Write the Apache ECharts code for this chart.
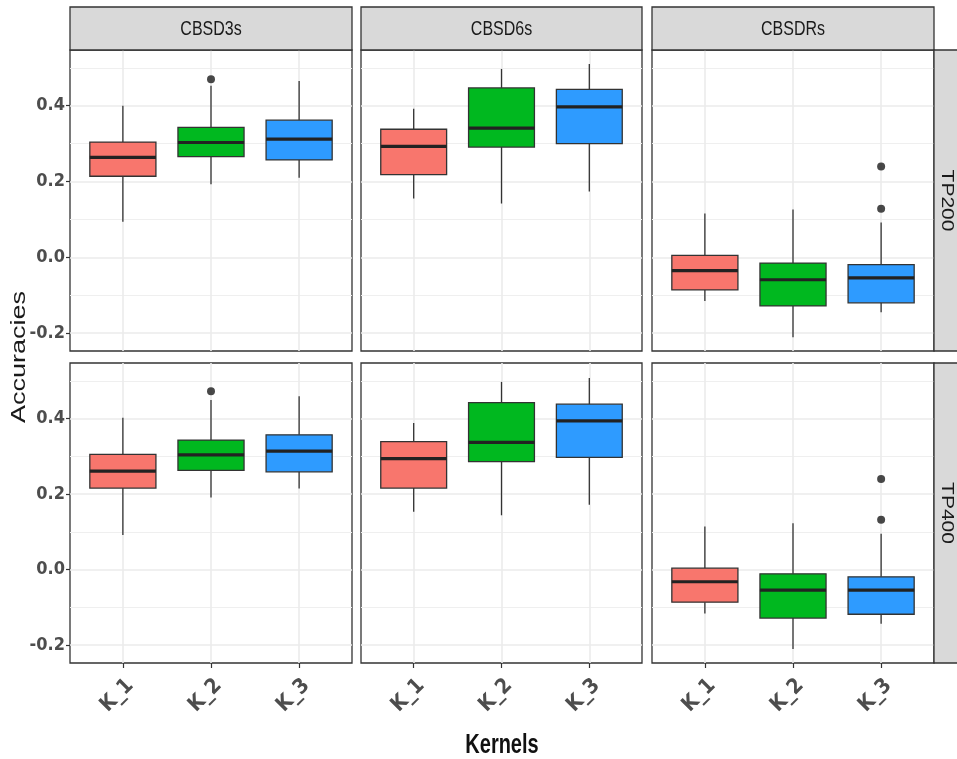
<!DOCTYPE html>
<html>
<head>
<meta charset="utf-8">
<script src="https://cdn.jsdelivr.net/npm/echarts@6/dist/echarts.min.js"></script>
<style>
html,body{margin:0;padding:0;background:#fff;}
#chart{width:957px;height:759px;}
</style>
</head>
<body>
<div id="chart"></div>
<script>
// ---- data ----
const panels = ['CBSD3s', 'CBSD6s', 'CBSDRs'];
const rowsLab = ['TP200', 'TP400'];
const kernels = ['K_1', 'K_2', 'K_3'];
const yTicks = [-0.2, 0, 0.2, 0.4];
const yMinor = [-0.1, 0.1, 0.3, 0.5];
const kernelColors = ['#F8766D', '#00B81F', '#2E9BFF'];

// [lower whisker, q1, median, q3, upper whisker] per kernel
const cbsd3s_tp200 = [[0.094, 0.214, 0.264, 0.304, 0.400], [0.193, 0.266, 0.303, 0.343, 0.453], [0.210, 0.257, 0.312, 0.362, 0.465]];
const cbsd6s_tp200 = [[0.155, 0.218, 0.293, 0.338, 0.392], [0.142, 0.291, 0.341, 0.447, 0.497], [0.174, 0.300, 0.397, 0.443, 0.510]];
const cbsdrs_tp200 = [[-0.115, -0.086, -0.035, 0.005, 0.116], [-0.211, -0.128, -0.059, -0.015, 0.126], [-0.145, -0.120, -0.054, -0.019, 0.092]];
const cbsd3s_tp400 = [[0.092, 0.216, 0.261, 0.305, 0.402], [0.191, 0.263, 0.304, 0.343, 0.449], [0.215, 0.259, 0.314, 0.357, 0.459]];
const cbsd6s_tp400 = [[0.153, 0.216, 0.294, 0.339, 0.388], [0.144, 0.286, 0.337, 0.442, 0.497], [0.172, 0.297, 0.394, 0.438, 0.507]];
const cbsdrs_tp400 = [[-0.116, -0.086, -0.032, 0.004, 0.114], [-0.210, -0.128, -0.054, -0.011, 0.123], [-0.143, -0.118, -0.054, -0.019, 0.095]];

// outliers [kernel index (1-based), value]
const out_cbsd3s_tp200 = [[2, 0.470]];
const out_cbsd6s_tp200 = [];
const out_cbsdrs_tp200 = [[3, 0.240], [3, 0.128]];
const out_cbsd3s_tp400 = [[2, 0.472]];
const out_cbsd6s_tp400 = [];
const out_cbsdrs_tp400 = [[3, 0.240], [3, 0.132]];

const boxData = [cbsd3s_tp200, cbsd6s_tp200, cbsdrs_tp200, cbsd3s_tp400, cbsd6s_tp400, cbsdrs_tp400];
const outData = [out_cbsd3s_tp200, out_cbsd6s_tp200, out_cbsdrs_tp200, out_cbsd3s_tp400, out_cbsd6s_tp400, out_cbsdrs_tp400];

// ---- layout ----
const colL = [70, 361, 652], colR = [352, 642, 934];
const rowT = [50, 363], rowB = [351, 663];
const yMin = -0.247, yMax = 0.547;
const narrow = '"Liberation Sans Narrow", "DejaVu Sans Condensed", "Liberation Sans", sans-serif';
const sans = '"Liberation Sans", Arial, sans-serif';

const grids = [], xAxes = [], yAxes = [], yAxesMinor = [], series = [];
for (let r = 0; r < 2; r++) {
  for (let c = 0; c < 3; c++) {
    const idx = r * 3 + c;
    grids.push({
      left: colL[c], top: rowT[r], width: colR[c] - colL[c], height: rowB[r] - rowT[r],
      show: true, backgroundColor: '#fff', borderColor: '#333', borderWidth: 1.3
    });
    xAxes.push({
      type: 'value', gridIndex: idx, min: 0.4, max: 3.6, position: 'bottom',
      axisLine: { show: false, onZero: false },
      axisTick: { show: r === 1, customValues: [1, 2, 3], length: 5, lineStyle: { color: '#333', width: 1.2 } },
      axisLabel: {
        show: r === 1, customValues: [1, 2, 3], rotate: 45, margin: 12, verticalAlign: 'top',
        formatter: v => kernels[Math.round(v) - 1],
        fontFamily: narrow, fontWeight: 'bold', fontSize: 21, color: '#4d4d4d'
      },
      splitLine: { show: true, lineStyle: { color: '#ebebeb', width: 1.6 } }
    });
    yAxes.push({
      type: 'value', gridIndex: idx, min: yMin, max: yMax, position: 'left',
      axisLine: { show: false, onZero: false },
      axisTick: { show: c === 0, customValues: yTicks, length: 4, lineStyle: { color: '#333', width: 1.2 } },
      axisLabel: {
        show: c === 0, customValues: yTicks, margin: 5,
        formatter: v => v.toFixed(1),
        fontFamily: narrow, fontWeight: 'bold', fontSize: 18, color: '#4d4d4d'
      },
      splitLine: { show: true, lineStyle: { color: '#ebebeb', width: 1.6 } }
    });
    yAxesMinor.push({
      type: 'value', gridIndex: idx, min: yMin, max: yMax, position: 'right',
      axisLine: { show: false, onZero: false },
      axisTick: { show: false, customValues: yMinor },
      axisLabel: { show: false, customValues: yMinor },
      splitLine: { show: true, lineStyle: { color: '#efefef', width: 1.2 } }
    });

    const data = boxData[idx].map((s, k) => [k + 1].concat(s));
    series.push({
      type: 'custom', xAxisIndex: idx, yAxisIndex: idx,
      encode: { x: 0, y: [1, 2, 3, 4, 5] },
      data: data,
      renderItem: function (params, api) {
        const x = api.value(0);
        const lo = api.coord([x, api.value(1)]);
        const q1 = api.coord([x, api.value(2)]);
        const md = api.coord([x, api.value(3)]);
        const q3 = api.coord([x, api.value(4)]);
        const hi = api.coord([x, api.value(5)]);
        const w = api.size([0.75, 0])[0];
        const col = kernelColors[Math.round(x) - 1];
        return {
          type: 'group',
          children: [
            { type: 'line', shape: { x1: hi[0], y1: hi[1], x2: q3[0], y2: q3[1] }, style: { stroke: '#333', lineWidth: 1.3 } },
            { type: 'line', shape: { x1: q1[0], y1: q1[1], x2: lo[0], y2: lo[1] }, style: { stroke: '#333', lineWidth: 1.3 } },
            { type: 'rect', shape: { x: q3[0] - w / 2, y: q3[1], width: w, height: q1[1] - q3[1] }, style: { fill: col, stroke: '#333', lineWidth: 1.3 } },
            { type: 'line', shape: { x1: md[0] - w / 2, y1: md[1], x2: md[0] + w / 2, y2: md[1] }, style: { stroke: '#222', lineWidth: 3.2 } }
          ]
        };
      }
    });
    series.push({
      type: 'scatter', xAxisIndex: idx, yAxisIndex: idx,
      data: outData[idx], symbolSize: 8,
      itemStyle: { color: '#1a1a1a' }
    });
  }
}

// strips and titles
const graphics = [];
for (let c = 0; c < 3; c++) {
  graphics.push({
    type: 'rect', shape: { x: colL[c], y: 7, width: colR[c] - colL[c], height: 43 },
    style: { fill: '#d9d9d9', stroke: '#333', lineWidth: 1.3 }, z: 10
  });
  graphics.push({
    type: 'text', x: (colL[c] + colR[c]) / 2, y: 29, scaleX: 0.8, z: 11,
    style: { text: panels[c], fontFamily: sans, fontSize: 20, fill: '#1a1a1a', align: 'center', verticalAlign: 'middle' }
  });
}
for (let r = 0; r < 2; r++) {
  graphics.push({
    type: 'rect', shape: { x: 934, y: rowT[r], width: 30, height: rowB[r] - rowT[r] },
    style: { fill: '#d9d9d9', stroke: '#333', lineWidth: 1.3 }, z: 10
  });
  graphics.push({
    type: 'text', x: 946, y: (rowT[r] + rowB[r]) / 2, rotation: -Math.PI / 2, scaleY: 0.75, z: 11,
    style: { text: rowsLab[r], fontFamily: sans, fontSize: 21, fill: '#1a1a1a', align: 'center', verticalAlign: 'middle' }
  });
}
graphics.push({
  type: 'text', x: 19, y: 357, rotation: Math.PI / 2, scaleY: 0.75, z: 11,
  style: { text: 'Accuracies', fontFamily: sans, fontSize: 27, fill: '#1a1a1a', align: 'center', verticalAlign: 'middle' }
});
graphics.push({
  type: 'text', x: 502, y: 746, scaleX: 0.74, z: 11,
  style: { text: 'Kernels', fontFamily: sans, fontWeight: 'bold', fontSize: 27, fill: '#111', align: 'center', verticalAlign: 'middle' }
});

const chart = echarts.init(document.getElementById('chart'), null, { renderer: 'canvas' });
chart.setOption({
  animation: false,
  backgroundColor: '#fff',
  grid: grids,
  xAxis: xAxes,
  yAxis: yAxes.concat(yAxesMinor),
  series: series,
  graphic: graphics
});
</script>
</body>
</html>
